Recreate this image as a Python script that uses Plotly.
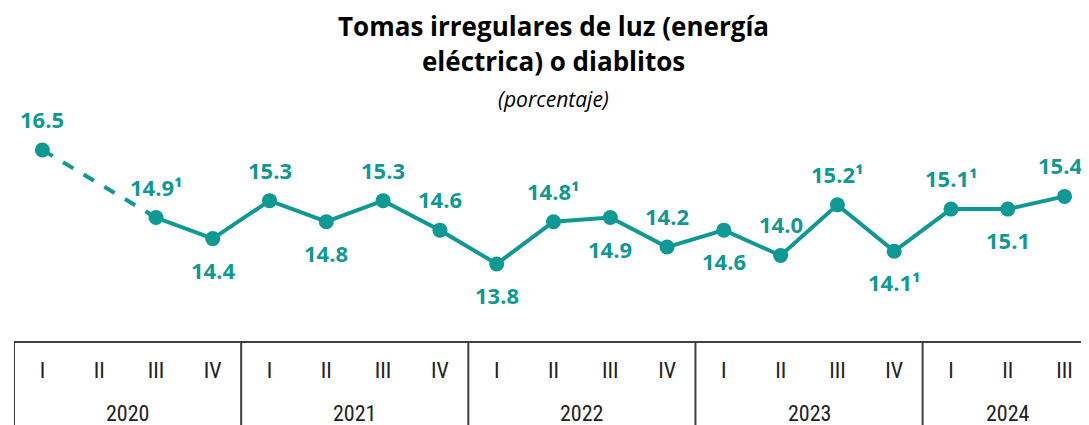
import plotly.graph_objects as go

quarters = ["I", "II", "III", "IV"] * 4 + ["I", "II", "III"]
years = ["2020", "2021", "2022", "2023", "2024"]
values = [16.5, None, 14.9, 14.4, 15.3, 14.8, 15.3, 14.6, 13.8, 14.8, 14.9, 14.2,
          14.6, 14.0, 15.2, 14.1, 15.1, 15.1, 15.4]
labels = ["16.5", "", "14.9¹", "14.4", "15.3", "14.8", "15.3", "14.6", "13.8", "14.8¹",
          "14.9", "14.2", "14.6", "14.0", "15.2¹", "14.1¹", "15.1¹", "15.1", "15.4"]
label_pos = ["above", "", "above", "below", "above", "below", "above", "above", "below",
             "above", "below", "above", "below", "above", "above", "below", "above",
             "below", "above"]

TEAL = "#0f9995"
AXFONT = "Liberation Sans Narrow, Arial Narrow, Roboto Condensed, DejaVu Sans Condensed, sans-serif"
x = list(range(len(values)))

fig = go.Figure()
# dashed segment across the missing quarter
fig.add_trace(go.Scatter(x=[x[0], x[2]], y=[values[0], values[2]], mode="lines",
                         line=dict(color=TEAL, width=4, dash="dash"),
                         hoverinfo="skip", showlegend=False))
fig.add_trace(go.Scatter(x=x[2:], y=values[2:], mode="lines+markers",
                         line=dict(color=TEAL, width=4),
                         marker=dict(color=TEAL, size=15),
                         showlegend=False))
fig.add_trace(go.Scatter(x=[x[0]], y=[values[0]], mode="markers",
                         marker=dict(color=TEAL, size=15), showlegend=False))

annotations = []
n = len(values)
for i, (v, t, p) in enumerate(zip(values, labels, label_pos)):
    if v is None:
        continue
    annotations.append(dict(x=i, y=v, xref="x", yref="y", text=f"<b>{t}</b>",
                            showarrow=False, yshift=31 if p == "above" else -31,
                            xshift=-5 if i == n - 1 else 0,
                            font=dict(family="Open Sans, sans-serif", size=22, color=TEAL)))

PH = 334.0  # plot height in px
# year labels
year_centers = [1.5, 5.5, 9.5, 13.5, 17]
for yc, yr in zip(year_centers, years):
    annotations.append(dict(x=yc, y=-(405 - PH) / PH, xref="x", yref="paper", text=yr,
                            showarrow=False, yanchor="middle",
                            font=dict(family=AXFONT, size=22, color="#222222")))

# title
TX = (545 - 6) / 1075
annotations.append(dict(x=TX, y=1.0 - 18 / PH, xref="paper", yref="paper",
                        text="<b>Tomas irregulares de luz (energía</b>", showarrow=False,
                        yanchor="middle",
                        font=dict(family="Open Sans, sans-serif", size=26, color="#000000")))
annotations.append(dict(x=TX, y=1.0 - 53 / PH, xref="paper", yref="paper",
                        text="<b>eléctrica) o diablitos</b>", showarrow=False,
                        yanchor="middle",
                        font=dict(family="Open Sans, sans-serif", size=26, color="#000000")))
annotations.append(dict(x=TX, y=1.0 - 91 / PH, xref="paper", yref="paper",
                        text="<i>(porcentaje)</i>", showarrow=False,
                        yanchor="middle",
                        font=dict(family="Open Sans, sans-serif", size=21, color="#000000")))

shapes = []
for b in [-0.5, 3.5, 7.5, 11.5, 15.5]:
    shapes.append(dict(type="line", xref="x", yref="paper", x0=b, x1=b, y0=0, y1=-0.4,
                       line=dict(color="#404040", width=2)))
shapes.append(dict(type="line", xref="x", yref="paper", x0=-0.5, x1=19, y0=0, y1=0,
                   line=dict(color="#404040", width=2)))

fig.update_layout(
    width=1081, height=417,
    margin=dict(l=6, r=0, t=0, b=83),
    plot_bgcolor="white", paper_bgcolor="white",
    annotations=annotations, shapes=shapes,
    xaxis=dict(range=[-0.5, 18.43], tickmode="array", tickvals=x, ticktext=quarters,
               showgrid=False, zeroline=False, showline=False, automargin=False,
               ticks="outside", ticklen=9, tickcolor="rgba(0,0,0,0)",
               tickfont=dict(family=AXFONT, size=22, color="#222222")),
    yaxis=dict(range=[11.95, 19.865], visible=False, showgrid=False, zeroline=False,
               automargin=False),
)

fig.write_html("out.html")
